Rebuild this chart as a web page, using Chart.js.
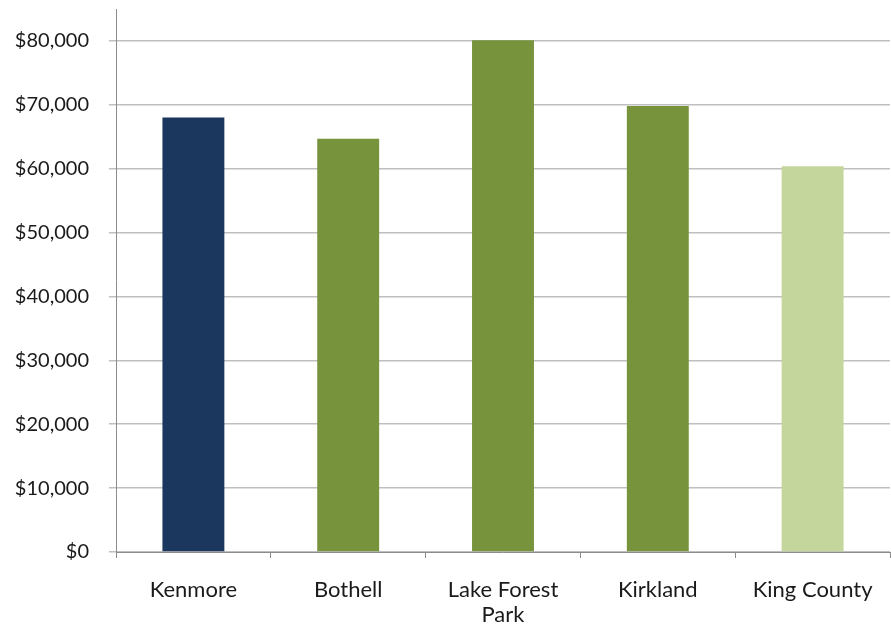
<!DOCTYPE html>
<html>
<head>
<meta charset="utf-8">
<script src="https://cdn.jsdelivr.net/npm/chart.js@4"></script>
<style>
  html, body { margin: 0; padding: 0; background: #fff; }
  canvas { display: block; }
</style>
</head>
<body>
<canvas id="myChart" width="891" height="627"></canvas>
<script>
const categories = ["Kenmore", "Bothell", ["Lake Forest", "Park"], "Kirkland", "King County"];
const incomes = [68000, 64700, 80100, 69800, 60400];
const barColors = ["#1b375e", "#77933c", "#77933c", "#77933c", "#c4d69b"];
const yTicks = [0, 10000, 20000, 30000, 40000, 50000, 60000, 70000, 80000];

const ctx = document.getElementById("myChart").getContext("2d");
new Chart(ctx, {
  type: "bar",
  data: {
    labels: categories,
    datasets: [
      {
        data: incomes,
        backgroundColor: barColors,
        borderWidth: 0,
        categoryPercentage: 1,
        barPercentage: 0.4,
      },
    ],
  },
  options: {
    responsive: false,
    animation: false,
    plugins: {
      legend: { display: false },
      tooltip: { enabled: false },
    },
    layout: {
      padding: { top: 9, right: 1, left: 0, bottom: 0 },
    },
    scales: {
      x: {
        offset: true,
        grid: {
          offset: true,
          drawOnChartArea: false,
          drawTicks: true,
          tickLength: 6,
          color: "#8c8c8c",
        },
        border: { color: "#8c8c8c", width: 1 },
        ticks: {
          color: "#1a1a1a",
          font: { family: "Lato", size: 22, lineHeight: 1.15 },
          padding: 19,
          maxRotation: 0,
        },
        afterFit: (scale) => {
          scale.height = 75;
          scale.paddingLeft = 0;
          scale.paddingRight = 0;
        },
      },
      y: {
        min: 0,
        max: 85000,
        afterBuildTicks: (scale) => {
          scale.ticks = yTicks.map((v) => ({ value: v }));
        },
        grid: {
          color: "#bfbfbf",
          lineWidth: 1.5,
          tickLength: 7,
        },
        border: { color: "#8c8c8c", width: 1 },
        ticks: {
          color: "#1a1a1a",
          font: { family: "Lato", size: 20 },
          padding: 20,
          callback: (value) => "$" + value.toLocaleString("en-US"),
        },
        afterFit: (scale) => {
          scale.width = 116;
          scale.paddingTop = 0;
          scale.paddingBottom = 0;
        },
      },
    },
  },
});
</script>
</body>
</html>
